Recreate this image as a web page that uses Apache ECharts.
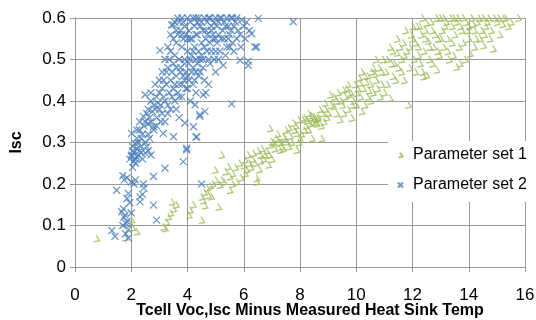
<!DOCTYPE html>
<html>
<head>
<meta charset="utf-8">
<script src="https://cdn.jsdelivr.net/npm/echarts@6/dist/echarts.min.js"></script>
<style>
  html, body { margin: 0; padding: 0; background: #fff; }
  #chart { width: 536px; height: 320px; }
</style>
</head>
<body>
<div id="chart"></div>
<script>
// x ticks 0..16 step 2, y ticks 0..0.6 step 0.1
const xTicks = [0, 2, 4, 6, 8, 10, 12, 14, 16];
const yTicks = [0, 0.1, 0.2, 0.3, 0.4, 0.5, 0.6];

const seriesNames = ['Parameter set 1', 'Parameter set 2'];

// Parameter set 1 (green), [Tcell - heat sink, Isc]
const set1Points = [
  [0.77,0.069],[1.78,0.071],[2.01,0.113],[2.19,0.085],[2.05,0.095],[1.95,0.105],
  [3.14,0.097],[3.2,0.093],[3.25,0.108],[3.32,0.121],[3.4,0.13],[3.44,0.157],[3.5,0.14],
  [4.09,0.137],[4.05,0.125],[4.5,0.113],[4.5,0.169],[4.55,0.16],[4.62,0.148],[4.74,0.173],
  [4.85,0.17],[4.7,0.19],[4.98,0.234],[4.9,0.2],[5.1,0.145],
  [3.6,0.15],[4.2,0.15],[4.6,0.18],[4.8,0.195],[5.0,0.21],
  [5.21,0.27],[5.21,0.21],[5.15,0.198],[5.3,0.205],[5.45,0.242],[5.51,0.218],[5.51,0.185],
  [5.6,0.2],[5.75,0.205],[5.9,0.215],[6.04,0.258],[6.1,0.234],[6.0,0.245],[6.2,0.25],
  [6.34,0.274],[6.46,0.214],[6.46,0.205],[6.58,0.27],[6.7,0.26],[6.87,0.246],[6.94,0.294],
  [6.93,0.334],[6.99,0.302],[6.8,0.28],[6.6,0.255],[6.3,0.26],
  [6.15,0.27],[6.5,0.28],[6.75,0.27],[7.05,0.3],[7.35,0.29],[7.45,0.31],
  [5.35,0.23],[5.6,0.225],[5.7,0.24],[5.85,0.25],[6.05,0.225],[6.25,0.24],[6.4,0.25],
  [6.55,0.235],[6.65,0.285],[6.9,0.27],[7.0,0.26],
  [7.1,0.285],[7.29,0.282],[7.41,0.314],[7.53,0.302],[7.6,0.29],[7.76,0.347],[7.88,0.322],
  [7.88,0.282],[7.95,0.3],[8.05,0.32],[8.1,0.355],[8.2,0.34],[8.36,0.359],[8.45,0.35],
  [8.5,0.362],[8.57,0.355],[8.6,0.345],[8.65,0.36],[8.43,0.31],[8.77,0.31],[8.8,0.37],
  [8.89,0.395],[8.95,0.36],[8.7,0.38],[8.3,0.33],[7.7,0.3],[7.3,0.3],[7.2,0.32],
  [7.6,0.335],[7.8,0.33],
  [8.25,0.352],[8.4,0.365],[8.55,0.348],[8.62,0.358],[8.48,0.357],[8.35,0.345],
  [7.15,0.31],[7.25,0.3],[7.4,0.285],[7.5,0.33],[7.65,0.315],[7.85,0.34],[7.95,0.355],
  [8.0,0.31],[8.15,0.33],[8.3,0.37],[8.75,0.34],[8.85,0.35],[8.9,0.38],[8.15,0.36],
  [9.07,0.415],[9.19,0.387],[9.3,0.4],[9.42,0.355],[9.5,0.39],[9.54,0.427],[9.6,0.41],
  [9.7,0.38],[9.84,0.359],[9.9,0.4],[10.02,0.419],[10.13,0.443],[10.19,0.375],[10.25,0.43],
  [10.3,0.46],[10.4,0.41],[10.5,0.44],[10.55,0.47],[10.6,0.42],[10.7,0.45],[10.8,0.48],
  [10.9,0.44],[10.95,0.5],[10.5,0.4],[10.0,0.39],[9.8,0.42],[9.3,0.37],[9.0,0.37],
  [10.1,0.455],[10.85,0.41],
  [9.65,0.43],[9.75,0.415],[9.95,0.44],[10.05,0.43],[10.35,0.445],[10.45,0.425],
  [10.65,0.465],[10.75,0.43],
  [9.1,0.39],[9.2,0.41],[9.35,0.42],[9.45,0.4],[9.55,0.37],[9.7,0.44],[9.85,0.39],
  [10.15,0.41],[10.2,0.47],[10.4,0.46],[10.6,0.48],[10.7,0.5],[10.9,0.47],[11.0,0.42],
  [10.3,0.39],
  [11.05,0.47],[11.1,0.44],[11.2,0.407],[11.25,0.49],[11.3,0.46],[11.44,0.516],[11.5,0.48],
  [11.6,0.5],[11.67,0.54],[11.7,0.45],[11.85,0.391],[11.8,0.52],[11.9,0.48],
  [12.0,0.55],[12.05,0.5],[12.1,0.47],[12.2,0.53],[12.27,0.49],[12.3,0.56],[12.39,0.459],
  [12.4,0.52],[12.5,0.588],[12.5,0.462],[12.55,0.545],[12.6,0.5],[12.7,0.57],[12.75,0.53],
  [12.86,0.475],[12.9,0.55],[12.98,0.6],[12.95,0.51],[11.4,0.45],[12.15,0.58],
  [11.55,0.53],[11.95,0.56],[12.1,0.54],[12.25,0.58],[12.45,0.55],[12.65,0.59],[12.8,0.56],
  [12.35,0.6],[11.75,0.57],[11.3,0.52],
  [11.1,0.5],[11.2,0.53],[11.35,0.49],[11.45,0.55],[11.6,0.47],[11.7,0.51],[11.9,0.53],
  [12.0,0.58],[12.2,0.51],[12.35,0.47],[12.45,0.57],[12.6,0.53],[12.7,0.49],[12.85,0.6],
  [12.9,0.52],
  [13.05,0.57],[13.1,0.53],[13.2,0.59],[13.25,0.55],[13.3,0.5],[13.4,0.58],[13.5,0.56],
  [13.57,0.482],[13.6,0.6],[13.65,0.53],[13.69,0.49],[13.75,0.57],[13.87,0.5],[13.9,0.59],
  [14.0,0.55],[14.04,0.514],[14.1,0.6],[14.2,0.57],[14.3,0.59],[14.4,0.55],[14.52,0.534],
  [14.6,0.58],[14.7,0.6],[14.87,0.526],[14.8,0.57],[15.0,0.59],[15.1,0.56],[15.23,0.599],
  [15.4,0.58],[15.76,0.6],[13.35,0.6],[13.8,0.6],[14.5,0.6],
  [13.15,0.58],[13.45,0.6],[13.7,0.58],[13.95,0.57],[14.15,0.585],[14.35,0.6],[14.45,0.57],
  [14.65,0.59],[14.9,0.6],[15.2,0.585],
  [13.0,0.55],[13.1,0.6],[13.25,0.52],[13.4,0.54],[13.55,0.59],[13.8,0.54],[14.0,0.58],
  [14.25,0.55],[14.55,0.56],[14.75,0.55],[15.05,0.6],[15.3,0.6],[15.5,0.59],[14.2,0.53],
  [13.45,0.51]
];

// Parameter set 2 (blue)
const set2Points = [
  [1.31,0.088],[1.42,0.074],[1.48,0.185],[1.66,0.133],[1.7,0.1],[1.75,0.12],[1.8,0.08],
  [1.85,0.11],[1.9,0.07],[1.9,0.09],[1.72,0.14],[1.78,0.125],[1.82,0.105],[1.9,0.177],
  [1.85,0.165],[1.95,0.155],[2.0,0.13],[1.7,0.22],[1.75,0.21],[1.85,0.215],[2.0,0.205],
  [2.1,0.2],[2.15,0.21],[2.31,0.169],[2.31,0.157],[2.4,0.175],[2.43,0.2],[2.45,0.19],
  [2.79,0.149],[2.9,0.113],[2.79,0.218],[3.2,0.238],[3.85,0.254],[4.5,0.2],[3.97,0.282],
  [2.05,0.24],[2.15,0.25],
  [1.95,0.26],[2.0,0.27],[2.01,0.266],[2.05,0.28],[2.1,0.275],[2.15,0.26],[2.2,0.285],
  [2.25,0.27],[2.3,0.28],[2.35,0.29],[2.4,0.26],[2.5,0.275],[2.6,0.28],[2.7,0.27],
  [2.13,0.298],[2.01,0.322],[2.2,0.31],[2.3,0.33],[2.4,0.32],[2.45,0.34],[2.5,0.3],
  [2.6,0.32],[2.7,0.35],[2.8,0.33],[2.43,0.363],[2.55,0.37],[2.79,0.338],[2.9,0.36],
  [3.0,0.38],[3.14,0.322],[3.2,0.35],[3.3,0.37],[3.5,0.314],[3.91,0.347],[3.97,0.286],
  [4.21,0.338],[4.3,0.313],[4.33,0.314],[4.27,0.391],[4.44,0.367],[4.44,0.363],[4.62,0.375],
  [4.56,0.415],[5.57,0.393],[2.49,0.415],[2.7,0.4],[2.8,0.39],[2.9,0.41],[3.0,0.42],
  [3.05,0.39],[3.1,0.43],[3.2,0.4],[3.25,0.44],[3.35,0.42],[3.4,0.45],[3.5,0.43],
  [3.6,0.46],[3.7,0.44],[3.8,0.41],[3.9,0.45],[4.0,0.43],[4.1,0.4],[4.2,0.44],[4.3,0.42],
  [2.05,0.29],[2.1,0.255],[2.2,0.265],[2.25,0.3],[2.35,0.275],[2.55,0.29],[2.6,0.345],
  [2.65,0.36],[2.75,0.375],[2.85,0.38],[2.95,0.395],[3.1,0.37],[3.15,0.41],[3.3,0.39],
  [3.45,0.41],[3.55,0.4],[3.65,0.42],[3.75,0.47],[3.85,0.46],[3.6,0.48],[3.95,0.43],
  [4.05,0.45],[4.15,0.47],[4.25,0.45],[4.35,0.49],
  [2.6,0.38],[2.7,0.42],[2.85,0.44],[3.0,0.45],[3.1,0.47],[3.15,0.45],[3.25,0.47],
  [3.35,0.5],[3.45,0.47],[3.55,0.44],[3.7,0.41],[3.8,0.44],[3.9,0.49],[4.0,0.46],
  [4.1,0.5],[4.2,0.52],[4.3,0.47],[4.45,0.5],[4.55,0.48],[4.65,0.55],[4.8,0.54],
  [2.2,0.33],[2.3,0.35],[2.5,0.35],[2.35,0.31],[2.65,0.31],[2.9,0.34],[3.4,0.38],
  [3.6,0.38],[3.05,0.35],[3.7,0.36],
  [3.02,0.522],[3.2,0.5],[3.3,0.48],[3.4,0.52],[3.5,0.49],[3.55,0.51],[3.6,0.54],
  [3.7,0.5],[3.75,0.48],[3.8,0.53],[3.85,0.55],[3.9,0.5],[3.95,0.47],[4.0,0.52],
  [4.05,0.49],[4.1,0.55],[4.15,0.51],[4.2,0.48],[4.25,0.53],[4.3,0.5],[4.35,0.56],
  [4.4,0.52],[4.45,0.47],[4.5,0.54],[4.55,0.5],[4.6,0.45],[4.7,0.52],[4.8,0.49],
  [4.9,0.55],[5.0,0.52],[5.1,0.5],[5.27,0.486],[5.4,0.53],[5.87,0.498],[6.16,0.486],
  [6.16,0.496],[6.4,0.53],[6.46,0.53],[5.0,0.47],[4.75,0.44],[4.65,0.42],[4.4,0.46],
  [4.5,0.51],[4.6,0.53],[4.7,0.56],[4.75,0.5],[4.85,0.52],[4.95,0.5],[5.05,0.54],
  [5.15,0.52],[5.3,0.55],[5.35,0.51],[5.5,0.53],[5.55,0.57],[5.75,0.55],[5.9,0.53],
  [6.05,0.55],[6.1,0.59],[6.2,0.57],
  [4.0,0.55],[3.8,0.56],[3.5,0.55],[3.3,0.53],[3.4,0.56],[4.85,0.57],[5.1,0.56],
  [5.45,0.55],[5.65,0.52],
  [3.44,0.583],[3.5,0.584],[3.6,0.57],[3.7,0.59],[3.8,0.6],[3.9,0.58],[4.0,0.6],
  [4.05,0.57],[4.1,0.59],[4.2,0.6],[4.25,0.58],[4.3,0.56],[4.4,0.6],[4.45,0.58],
  [4.5,0.59],[4.6,0.6],[4.65,0.57],[4.7,0.59],[4.8,0.6],[4.85,0.58],[4.9,0.56],
  [5.0,0.6],[5.05,0.58],[5.1,0.59],[5.2,0.6],[5.25,0.57],[5.3,0.59],[5.4,0.6],
  [5.45,0.58],[5.5,0.56],[5.6,0.6],[5.65,0.58],[5.7,0.59],[5.8,0.57],[5.87,0.56],
  [5.93,0.595],[6.0,0.58],[6.28,0.562],[6.52,0.599],[7.76,0.591],[5.2,0.55],[5.6,0.54],
  [5.0,0.55],[4.15,0.55],
  [3.55,0.59],[3.65,0.56],[3.75,0.57],[3.85,0.59],[3.95,0.56],[4.35,0.59],[4.55,0.57],
  [4.95,0.59],[5.15,0.6],[5.35,0.58],[5.55,0.6],[5.75,0.6],[4.75,0.6],[4.3,0.6],[3.65,0.6]
];

const GREEN = '#9bbb59';
const BLUE = '#4a7ebb';
const GRID = '#999999';
const FONT = "'Liberation Sans', Arial, sans-serif";

const markerSet1 = 'path://M2,0L5,5L0,6';
const markerSet2 = 'path://M0,0L6,6M6,0L0,6';

const chart = echarts.init(document.getElementById('chart'), null, { renderer: 'canvas' });

chart.setOption({
  animation: false,
  backgroundColor: '#fff',
  textStyle: { fontFamily: FONT, color: '#000' },
  grid: { left: 75, right: 11, top: 18, bottom: 53, containLabel: false, outerBoundsMode: 'none' },
  legend: {
    orient: 'vertical',
    left: 388,
    top: 141,
    padding: [5, 10, 8, 9],
    itemGap: 12,
    itemWidth: 5,
    itemHeight: 5,
    backgroundColor: '#fff',
    data: seriesNames,
    textStyle: { fontFamily: FONT, fontSize: 16, color: '#000', lineHeight: 18, padding: [0, 0, 0, 5] }
  },
  xAxis: {
    type: 'value',
    min: xTicks[0],
    max: xTicks[xTicks.length - 1],
    interval: 2,
    name: 'Tcell Voc,Isc Minus Measured Heat Sink Temp',
    nameLocation: 'middle',
    nameGap: 36,
    nameMoveOverlap: false,
    nameTextStyle: { fontFamily: FONT, fontSize: 16, fontWeight: 'bold', color: '#000', padding: [0, 0, 0, 20] },
    axisLine: { show: true, lineStyle: { color: GRID, width: 1 } },
    axisTick: { show: true, length: 5, lineStyle: { color: GRID } },
    axisLabel: { margin: 20, fontSize: 17, color: '#000', fontFamily: FONT },
    splitLine: { show: true, lineStyle: { color: GRID, width: 1 } }
  },
  yAxis: {
    type: 'value',
    min: yTicks[0],
    max: yTicks[yTicks.length - 1],
    interval: 0.1,
    name: 'Isc',
    nameLocation: 'middle',
    nameGap: 50,
    nameMoveOverlap: false,
    nameRotate: 90,
    nameTextStyle: { fontFamily: FONT, fontSize: 16, fontWeight: 'bold', color: '#000' },
    axisLine: { show: true, lineStyle: { color: GRID, width: 1 } },
    axisTick: { show: true, length: 5, lineStyle: { color: GRID } },
    axisLabel: {
      margin: 9, fontSize: 17, color: '#000', fontFamily: FONT,
      formatter: v => (Math.round(v * 10) / 10).toString()
    },
    splitLine: { show: true, lineStyle: { color: GRID, width: 1 } }
  },
  series: [
    {
      name: seriesNames[0],
      type: 'scatter',
      data: set1Points,
      symbol: markerSet1,
      symbolSize: [6, 7],
      itemStyle: { color: 'rgba(0,0,0,0)', borderColor: GREEN, borderWidth: 1.3 },
      emphasis: { disabled: true },
      z: 2
    },
    {
      name: seriesNames[1],
      type: 'scatter',
      data: set2Points,
      symbol: markerSet2,
      symbolSize: 7,
      itemStyle: { color: 'rgba(0,0,0,0)', borderColor: BLUE, borderWidth: 1.3 },
      emphasis: { disabled: true },
      z: 3
    }
  ]
});
</script>
</body>
</html>
